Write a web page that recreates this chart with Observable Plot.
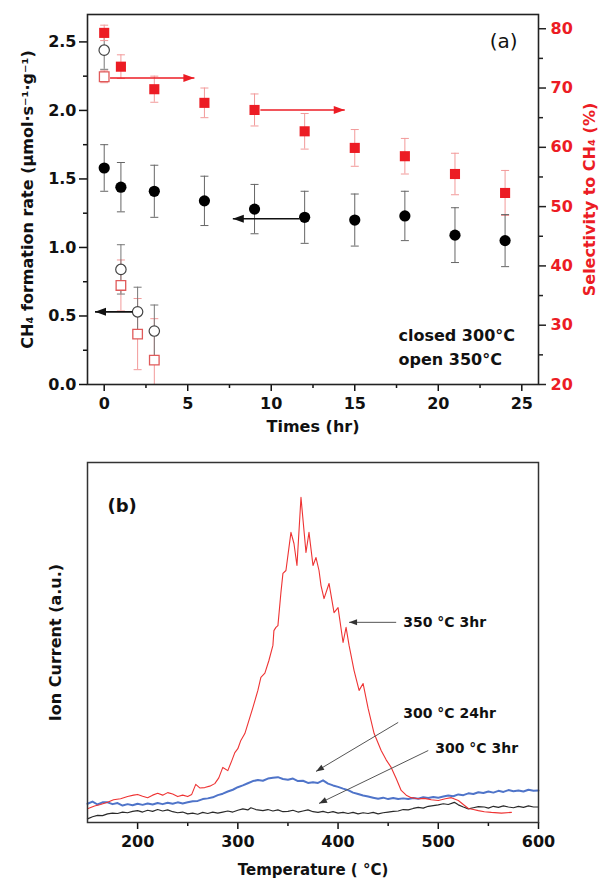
<!DOCTYPE html>
<html><head><meta charset="utf-8">
<script src="https://cdn.jsdelivr.net/npm/d3@7"></script>
<script src="https://cdn.jsdelivr.net/npm/@observablehq/plot@0.6"></script>
<style>
body{margin:0;background:#fff;}
#chart svg{display:block;max-width:none;}
</style></head><body><div id="chart"></div>
<script>
// ---------- Panel (a) data ----------
const closedT = [0, 1, 3, 6, 9, 12, 15, 18, 21, 24];
const closedRate = [1.58, 1.44, 1.41, 1.34, 1.28, 1.22, 1.20, 1.23, 1.09, 1.05];
const closedRateErr = [0.17, 0.18, 0.19, 0.18, 0.18, 0.19, 0.19, 0.18, 0.20, 0.19];
const closedSel = [79.3, 73.6, 69.8, 67.5, 66.3, 62.7, 59.9, 58.5, 55.5, 52.3];
const closedSelErr = [1.3, 2.0, 2.2, 2.5, 2.7, 3.0, 3.1, 3.0, 3.5, 3.8];

const openT = [0, 1, 2, 3];
const openRate = [2.44, 0.84, 0.53, 0.39];
const openRateErr = [0.14, 0.18, 0.18, 0.19];
const openSel = [71.9, 36.7, 28.5, 24.1];
const openSelErr = [1.0, 4.3, 6.0, 7.0];

const xTicksA = [0, 5, 10, 15, 20, 25];
const xMinorA = [2.5, 7.5, 12.5, 17.5, 22.5];
const yTicksA = [0, 0.5, 1.0, 1.5, 2.0, 2.5];
const yMinorA = [0.25, 0.75, 1.25, 1.75, 2.25];
const selTicks = [20, 30, 40, 50, 60, 70, 80];
const selMinor = [25, 35, 45, 55, 65, 75];

// annotation arrows (data units)
const rateArrows = [{x1: 11.7, x2: 7.7, v: 1.21}, {x1: 1.7, x2: -0.55, v: 0.53}];
const selArrows = [{x1: 0.35, x2: 5.4, v: 71.7}, {x1: 9.35, x2: 14.4, v: 66.3}];
const legendLines = ["closed 300°C", "open 350°C"];

// ---------- Panel (b) data ----------
const redT = [150,157,163,170,176,183,190,196,200,205,210,215,220,225,230,235,240,245,250,254,258,262,267,272,277,281,285,290,294,297,300,303,307,311,315,320,323,327,331,335,336,338,340,343,345,348,353,356,359,363,368,371,375,378,381,383,386,391,396,400,405,408,411,416,421,425,430,436,443,448,453,458,463,468,473,480,486,493,500,507,513,520,525,530,535,540,546,553,563,573];
const redV = [3.8,4.6,5.0,5.6,6.3,6.6,7.2,7.6,7.8,7.3,6.9,7.6,8.1,7.6,8.3,7.9,7.2,7.6,7.2,7.8,10.6,9.6,9.7,10.1,10.8,12.4,15.3,14.4,17.2,19.4,20.5,22.8,24.7,28.3,31.9,36.7,40.3,41.5,45.0,49.2,53.3,54.2,54.7,63.9,69.2,70.0,80.6,77.5,71.4,90.3,75.0,80.6,71.4,73.6,70.0,65.8,62.2,66.4,58.3,59.7,50.0,54.2,49.2,42.2,36.7,38.6,31.7,24.7,20.0,17.4,15.3,12.2,8.9,7.6,6.9,6.6,6.7,6.3,6.1,6.6,6.9,6.1,5.0,3.9,3.6,3.3,3.0,2.8,2.6,2.8];

const blueT = [150,155,160,165,170,175,180,185,190,195,200,205,210,215,220,225,230,235,240,245,250,255,260,265,270,275,280,285,290,295,300,305,310,315,320,325,330,335,340,345,350,355,360,365,370,375,380,385,390,395,400,405,410,415,420,425,430,435,440,445,450,455,460,465,470,475,480,485,490,495,500,505,510,515,520,525,530,535,540,545,550,555,560,565,570,575,580,585,590,595,600];
const blueV = [5.2,5.8,5.0,5.6,5.6,5.1,5.4,4.7,5.1,4.8,5.2,4.9,5.3,5.0,5.4,5.1,5.5,5.2,5.6,5.3,5.6,5.9,6.0,6.5,6.7,7.0,7.6,8.0,8.6,9.1,9.8,10.3,10.9,11.5,11.8,11.6,12.2,12.4,12.6,12.1,11.9,12.2,11.5,11.6,11.0,11.2,11.0,11.7,10.8,10.3,9.9,9.4,9.0,8.3,7.9,7.5,7.2,6.9,6.6,6.9,6.5,6.8,6.5,6.7,6.5,6.8,6.6,7.0,6.8,7.1,6.9,7.2,7.5,7.3,7.8,7.6,8.1,7.9,8.4,8.2,8.6,8.3,8.8,8.5,9.0,8.7,8.9,8.6,9.1,8.8,8.9];

const blackT = [150,155,160,165,170,175,180,185,190,195,200,205,210,215,220,225,230,235,240,245,250,255,260,265,270,275,280,285,290,295,300,305,310,313,318,325,330,335,340,345,350,355,360,365,370,375,380,385,390,395,400,405,410,415,420,425,430,435,440,445,450,455,460,465,470,475,480,485,490,495,500,505,510,516,520,525,530,535,540,546,550,555,560,565,570,575,580,585,590,595,600];
const blackV = [1.0,1.6,2.0,1.9,2.4,2.6,2.5,2.9,2.7,3.1,3.3,2.9,3.4,3.1,3.6,3.2,3.5,3.0,2.7,2.9,2.4,2.6,2.3,2.8,2.5,2.9,2.6,2.9,3.2,2.9,3.4,3.8,3.5,4.1,3.6,3.3,3.6,3.2,3.5,3.0,3.1,3.4,2.9,3.2,3.5,3.0,2.8,3.1,2.7,3.0,2.6,2.8,2.5,2.8,2.4,2.7,2.5,2.8,2.4,2.7,2.9,3.1,3.2,3.6,3.5,3.9,4.2,4.0,4.5,4.7,4.9,5.2,5.0,5.6,4.9,4.3,3.8,4.1,4.4,4.3,4.0,4.5,4.2,4.6,4.3,4.1,4.5,4.2,4.6,4.3,4.3];

const xTicksB = [200, 300, 400, 500, 600];
const xMinorB = [250, 350, 450, 550];

const labelsB = [
  {text: "350 °C 3hr", T: 465, v: 55.6},
  {text: "300 °C 24hr", T: 465, v: 30.3},
  {text: "300 °C 3hr", T: 497, v: 20.6}
];
const arrowsB = [
  {x1: 458, y1: 55.6, x2: 411, y2: 55.6},
  {x1: 460, y1: 27.8, x2: 378, y2: 14.2},
  {x1: 490, y1: 20.0, x2: 381, y2: 5.3}
];

// ---------- helpers ----------
const W = 599;
const RED = "#ec1c24";
const selDomain = [20, 82.4];
const rateMax = 2.7;
const toLeft = s => (s - selDomain[0]) / (selDomain[1] - selDomain[0]) * rateMax;
const fromLeft = v => selDomain[0] + v / rateMax * (selDomain[1] - selDomain[0]);
const dart = (L, H) => ({draw(ctx) { ctx.moveTo(0, 0); ctx.lineTo(-L, -H); ctx.lineTo(-L, H); ctx.closePath(); }});

const mk = (T, R, RE, S, SE) => T.map((t, i) => ({
  t, rate: R[i], rLo: R[i] - RE[i], rHi: R[i] + RE[i],
  sel: toLeft(S[i]), sLo: toLeft(S[i] - SE[i]), sHi: toLeft(S[i] + SE[i])
}));
const closed = mk(closedT, closedRate, closedRateErr, closedSel, closedSelErr);
const open = mk(openT, openRate, openRateErr, openSel, openSelErr);

const errBars = (data, lo, hi, color) => [
  Plot.ruleX(data, {x: "t", y1: lo, y2: hi, stroke: color, strokeWidth: 1, clip: true}),
  Plot.link(data, {x1: d => d.t - 0.24, x2: d => d.t + 0.24, y1: hi, y2: hi, stroke: color, strokeWidth: 1, clip: true}),
  Plot.link(data, {x1: d => d.t - 0.24, x2: d => d.t + 0.24, y1: lo, y2: lo, stroke: color, strokeWidth: 1, clip: true})
];

const arrowsA = [
  ...rateArrows.map(a => ({x1: a.x1, x2: a.x2, y: a.v, color: "#111111"})),
  ...selArrows.map(a => ({x1: a.x1, x2: a.x2, y: toLeft(a.v), color: RED}))
];

const baseStyle = {fontFamily: "DejaVu Sans", fontSize: "16px", fontWeight: "bold", color: "#111", background: "#fff"};

const plotA = Plot.plot({
  width: W, height: 444,
  marginLeft: 87, marginRight: 61, marginTop: 14, marginBottom: 60,
  style: baseStyle,
  x: {domain: [-1, 26]},
  y: {domain: [0, rateMax]},
  marks: [
    Plot.axisX(xTicksA, {tickSize: 7, tickPadding: 6, strokeWidth: 1.5, label: null, tickFormat: d => String(d)}),
    Plot.axisX(xMinorA, {tickSize: 4, strokeWidth: 1.5, label: null, tickFormat: () => ""}),
    Plot.axisY(yTicksA, {anchor: "left", tickSize: 8, tickPadding: 3, strokeWidth: 1.5, label: null, tickFormat: d => d.toFixed(1)}),
    Plot.axisY(yMinorA, {anchor: "left", tickSize: 4, strokeWidth: 1.5, label: null, tickFormat: () => ""}),
    Plot.axisY(selTicks.map(toLeft), {anchor: "right", tickSize: 7, tickPadding: 5, strokeWidth: 1.5, label: null, stroke: "#222", fill: RED, tickFormat: d => String(Math.round(fromLeft(d)))}),
    Plot.axisY(selMinor.map(toLeft), {anchor: "right", tickSize: 4, strokeWidth: 1.5, label: null, stroke: "#222", tickFormat: () => ""}),
    ...errBars(open, "sLo", "sHi", "#f29a9a"),
    ...errBars(open, "rLo", "rHi", "#777"),
    ...errBars(closed, "sLo", "sHi", "#f29a9a"),
    ...errBars(closed, "rLo", "rHi", "#666"),
    Plot.dot(open, {x: "t", y: "sel", symbol: "square", r: 5.4, fill: "white", stroke: "#e05a5a", strokeWidth: 1.3}),
    Plot.dot(open, {x: "t", y: "rate", symbol: "circle", r: 5.2, fill: "white", stroke: "#444", strokeWidth: 1.2}),
    Plot.dot(closed, {x: "t", y: "sel", symbol: "square", r: 5.7, fill: RED, stroke: "none"}),
    Plot.dot(closed, {x: "t", y: "rate", symbol: "circle", r: 5.6, fill: "#000", stroke: "none"}),
    Plot.link(arrowsA, {x1: "x1", x2: "x2", y1: "y", y2: "y", stroke: d => d.color, strokeWidth: 1.6}),
    Plot.dot(arrowsA, {x: "x2", y: "y", symbol: dart(11, 4), rotate: d => d.x2 > d.x1 ? 0 : 180, fill: d => d.color, stroke: "none"}),
    Plot.text(["(a)"], {text: d => d, frameAnchor: "top-right", dx: -21, dy: 19, textAnchor: "end", fontSize: 20, fontWeight: "normal"}),
    Plot.text([legendLines.join("\n")], {text: d => d, frameAnchor: "bottom-right", textAnchor: "start", lineAnchor: "bottom", dx: -140, dy: -20, lineHeight: 1.5, fontSize: 16}),
    Plot.text(["CH₄ formation rate (μmol·s⁻¹·g⁻¹)"], {text: d => d, frameAnchor: "left", textAnchor: "middle", rotate: -90, dx: -60, fontSize: 16}),
    Plot.text(["Selectivity to CH₄ (%)"], {text: d => d, frameAnchor: "right", textAnchor: "middle", rotate: -90, dx: 51, fontSize: 16, fill: RED}),
    Plot.text(["Times (hr)"], {text: d => d, frameAnchor: "bottom", dy: 47, fontSize: 16}),
    Plot.frame({stroke: "#222", strokeWidth: 1.6})
  ]
});

// ---------- Panel (b) ----------
const HB = 437, mTB = 18, mBB = 59, mLB = 87, mRB = 61;
const xDomB = [150, 600], yDomB = [0, 100];
const xsB = Plot.scale({x: {domain: xDomB, range: [mLB, W - mRB]}});
const ysB = Plot.scale({y: {domain: yDomB, range: [HB - mBB, mTB]}});
const angle = d => Math.atan2(ysB.apply(d.y2) - ysB.apply(d.y1), xsB.apply(d.x2) - xsB.apply(d.x1)) * 180 / Math.PI;

const red = redT.map((T, i) => ({T, v: redV[i]}));
const blue = blueT.map((T, i) => ({T, v: blueV[i]}));
const black = blackT.map((T, i) => ({T, v: blackV[i]}));

const plotB = Plot.plot({
  width: W, height: HB,
  marginLeft: mLB, marginRight: mRB, marginTop: mTB, marginBottom: mBB,
  style: baseStyle,
  x: {domain: xDomB},
  y: {domain: yDomB, axis: null},
  marks: [
    Plot.axisX(xTicksB, {tickSize: 7, tickPadding: 6, strokeWidth: 1.5, label: null, tickFormat: d => String(d)}),
    Plot.axisX(xMinorB, {tickSize: 4, strokeWidth: 1.5, label: null, tickFormat: () => ""}),
    Plot.line(black, {x: "T", y: "v", stroke: "#2a2a2a", strokeWidth: 1.2}),
    Plot.line(blue, {x: "T", y: "v", stroke: "#4f74c9", strokeWidth: 2}),
    Plot.line(red, {x: "T", y: "v", stroke: "#ee3333", strokeWidth: 1.1}),
    Plot.link(arrowsB, {x1: "x1", y1: "y1", x2: "x2", y2: "y2", stroke: "#555", strokeWidth: 1}),
    Plot.dot(arrowsB, {x: "x2", y: "y2", symbol: dart(8, 3), rotate: angle, fill: "#333", stroke: "none"}),
    Plot.text(labelsB, {x: "T", y: "v", text: "text", textAnchor: "start", fontSize: 14}),
    Plot.text(["(b)"], {text: d => d, frameAnchor: "top-left", dx: 20, dy: 37, textAnchor: "start", fontSize: 18}),
    Plot.text(["Ion Current (a.u.)"], {text: d => d, frameAnchor: "left", textAnchor: "middle", rotate: -90, dx: -32, fontSize: 16}),
    Plot.text(["Temperature ( °C)"], {text: d => d, frameAnchor: "bottom", dy: 52, fontSize: 15}),
    Plot.frame({stroke: "#333", strokeWidth: 1.5})
  ]
});

const root = document.getElementById("chart");
root.appendChild(plotA);
root.appendChild(plotB);
</script>
</body></html>
